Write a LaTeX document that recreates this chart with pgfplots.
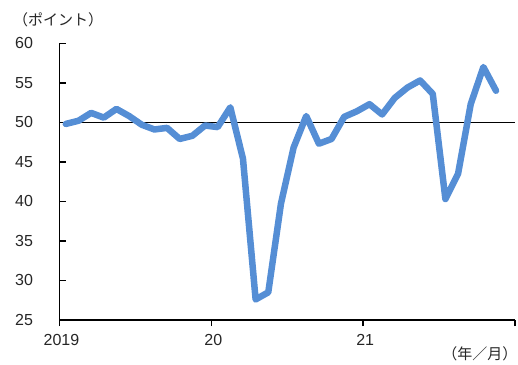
\documentclass[border=0pt]{standalone}
\usepackage{pgfplots}
\pgfplotsset{compat=1.18}
\usepackage{fontspec}
\setmainfont{Liberation Sans}
\newfontfamily\cjk{Noto Sans CJK JP}
\definecolor{lineblue}{RGB}{85,142,213}
\begin{document}
\begin{tikzpicture}[x=1pt,y=1pt]
\path[use as bounding box] (-59.5,-44) rectangle (458.5,320);
\begin{axis}[
  at={(0,0)}, anchor=south west,
  scale only axis,
  width=455.5pt, height=276.7pt,
  xmin=0, xmax=36, ymin=25, ymax=60,
  axis x line*=bottom, axis y line*=left,
  axis line style={line width=1.7pt, black},
  xtick={0,12,24,36}, xticklabels={2019,20,21,},
  ytick={25,30,35,40,45,50,55,60},
  x tick style={line width=1.5pt, black},
  y tick style={line width=1.5pt, black},
  xtick align=outside, ytick align=inside,
  major tick length=6pt,
  tick label style={font=\fontsize{16}{18}\selectfont, text=black!85},
  /pgf/number format/assume math mode=true,
  yticklabel style={xshift=-23pt},
  xticklabel style={yshift=-5pt, xshift=2pt},
  clip=false,
]
\addplot[black, line width=1.7pt] coordinates {(0,50) (36,50)};
\addplot[lineblue, line width=6.5pt, line join=round, line cap=round] coordinates {
(0.5,49.8) (1.5,50.2) (2.5,51.2) (3.5,50.6) (4.5,51.7) (5.5,50.8)
(6.5,49.7) (7.5,49.1) (8.5,49.3) (9.5,47.9) (10.5,48.3) (11.5,49.6)
(12.5,49.4) (13.5,51.9) (14.5,45.4) (15.5,27.6) (16.5,28.5) (17.5,39.7)
(18.5,46.8) (19.5,50.8) (20.5,47.3) (21.5,47.9) (22.5,50.7) (23.5,51.4)
(24.5,52.3) (25.5,51.0) (26.5,53.1) (27.5,54.4) (28.5,55.3) (29.5,53.6)
(30.5,40.3) (31.5,43.5) (32.5,52.3) (33.5,57.0) (34.5,54.0)
};
\end{axis}
\node[anchor=west, font=\cjk\fontsize{15}{17}\selectfont, text=black!85, inner sep=0pt] at (-46.5,300) {（ポイント）};
\node[anchor=east, font=\cjk\fontsize{15}{17}\selectfont, text=black!85, inner sep=0pt] at (458,-33.5) {（年／月）};
\end{tikzpicture}
\end{document}
